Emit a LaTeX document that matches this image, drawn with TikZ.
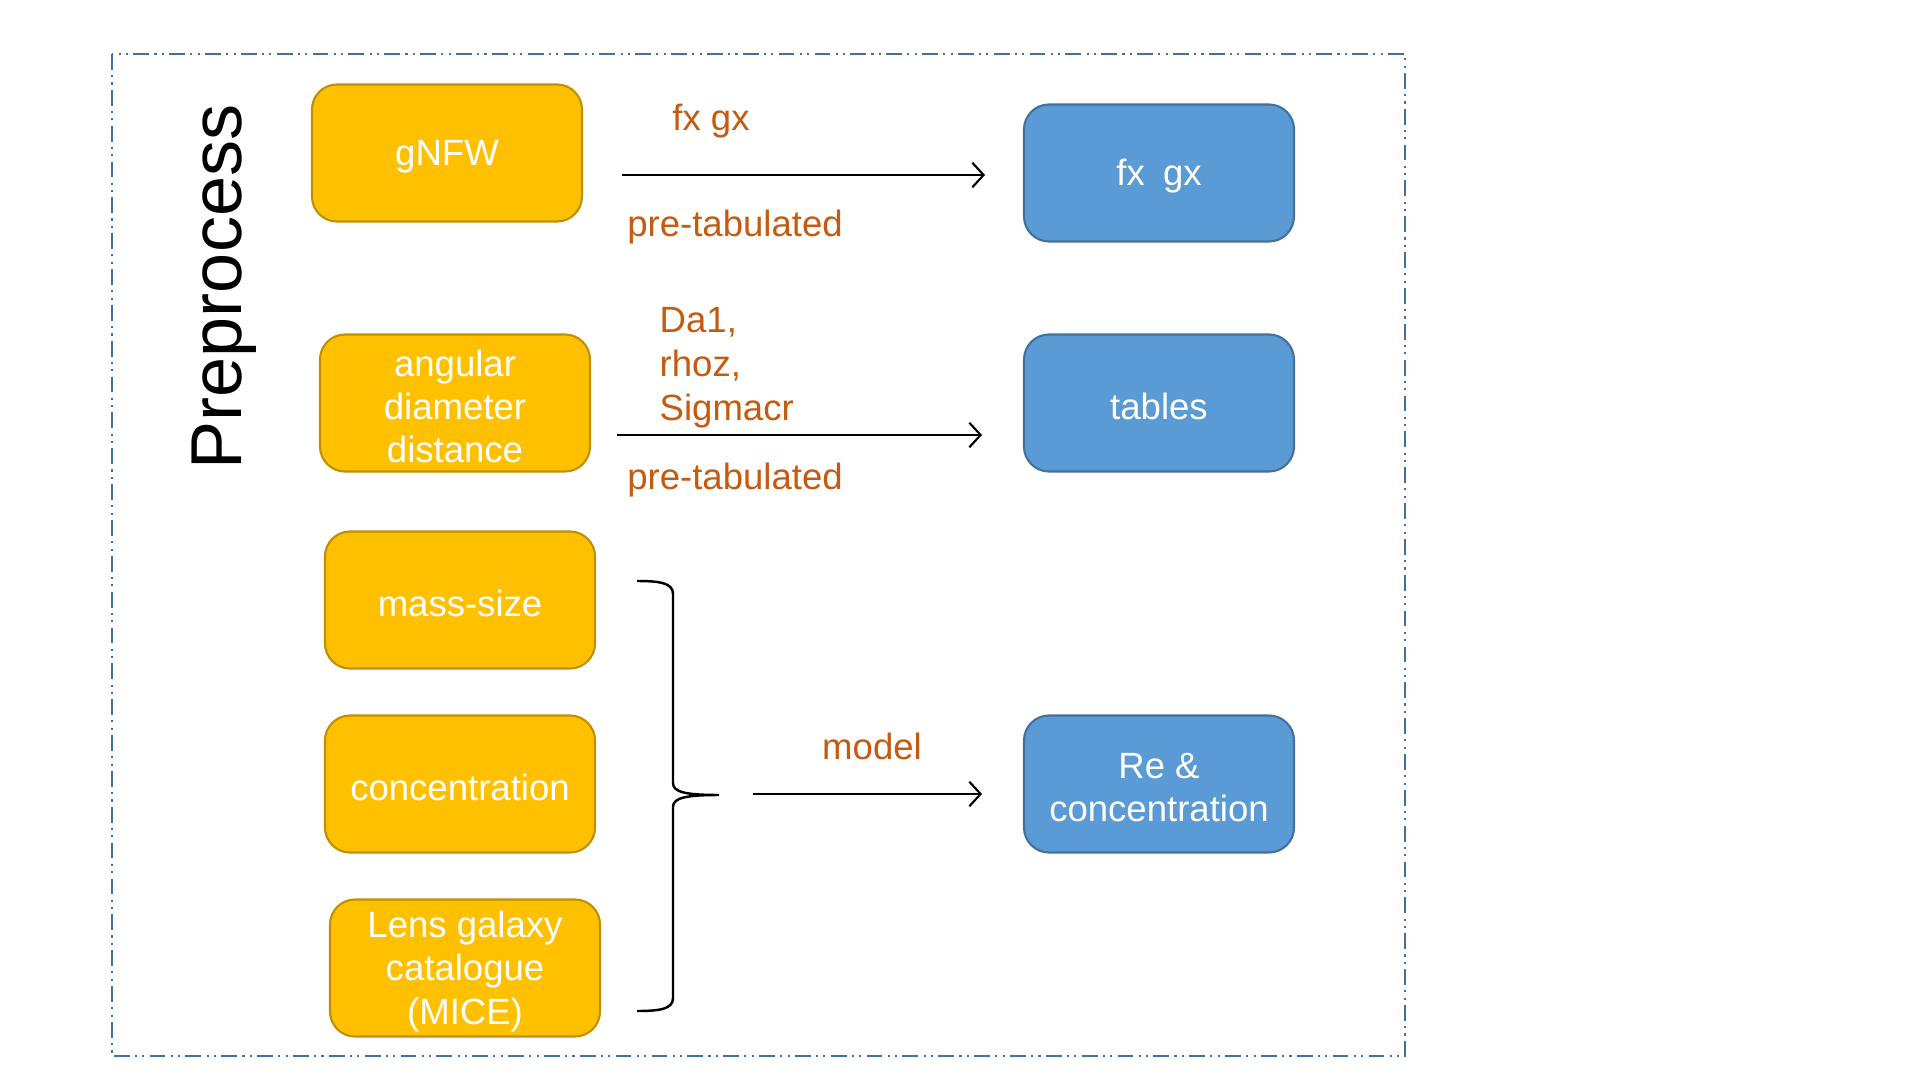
\documentclass[tikz,border=0pt]{standalone}
\usepackage{fontspec}
\setmainfont{Liberation Sans}
\usetikzlibrary{arrows.meta}
\definecolor{boxorange}{HTML}{FFC000}
\definecolor{edgeorange}{HTML}{C09000}
\definecolor{boxblue}{HTML}{5B9BD5}
\definecolor{edgeblue}{HTML}{41719C}
\definecolor{labelorange}{HTML}{C55A11}
\definecolor{framecol}{HTML}{41719C}
\tikzset{
  boxtxt/.style={text=white, align=center, inner sep=0pt, yshift=-0.035cm,
    font=\fontsize{10.4}{12.3}\selectfont},
  inbox/.style={draw=edgeorange, fill=boxorange, line width=0.6pt, rounded corners=0.25cm,
    minimum width=2.7cm, minimum height=1.37cm, inner sep=0pt},
  outbox/.style={inbox, draw=edgeblue, fill=boxblue},
  lbl/.style={text=labelorange, inner sep=0pt, font=\fontsize{10.4}{12.5}\selectfont},
  flow/.style={line width=0.6pt, -{Straight Barb[length=3.2pt,width=7pt,line width=0.6pt]}},
  frame/.style={draw=framecol, line width=0.55pt,
    dash pattern=on 4.5pt off 1.5pt on 0.6pt off 1.5pt on 0.6pt off 1.5pt}
}
\begin{document}
\begin{tikzpicture}
\useasboundingbox (0,0) rectangle (19.2,-10.8);
\fill[white] (0,0) rectangle (19.2,-10.8);

% dashed frame around the preprocessing stage
\draw[frame] (1.12,-0.54) rectangle (14.05,-10.56);

% stage title
\node[rotate=90, font=\fontsize{20.5}{24}\selectfont, inner sep=0pt] (title) at (2.24,-2.87) {Preprocess};

% inputs
\node[inbox, label={[boxtxt]center:gNFW}] (gnfw) at (4.47,-1.53) {};
\node[inbox, label={[boxtxt]center:angular\\diameter\\distance}] (angdist) at (4.55,-4.03) {};
\node[inbox, label={[boxtxt]center:mass-size}] (masssize) at (4.60,-6.00) {};
\node[inbox, label={[boxtxt]center:concentration}] (conc) at (4.60,-7.84) {};
\node[inbox, label={[boxtxt]center:Lens galaxy\\catalogue\\(MICE)}] (lens) at (4.65,-9.68) {};

% outputs
\node[outbox, label={[boxtxt]center:fx\enspace gx}] (fxgx) at (11.59,-1.73) {};
\node[outbox, label={[boxtxt]center:tables}] (tables) at (11.59,-4.03) {};
\node[outbox, label={[boxtxt]center:Re \&\\concentration}] (reconc) at (11.59,-7.84) {};

% arrow end points
\coordinate (a1s) at (6.22,-1.75);
\coordinate (a1e) at (9.85,-1.75);
\coordinate (a2s) at (6.17,-4.35);
\coordinate (a2e) at (9.82,-4.35);
\coordinate (tip) at (7.19,-7.95);
\coordinate (a3s) at (7.53,-7.94);
\coordinate (a3e) at (9.82,-7.94);

\draw[flow] (a1s) -- (a1e);
\draw[flow] (a2s) -- (a2e);
\draw[flow] (a3s) -- (a3e);

% arrow labels
\node[lbl] (l1) at (7.11,-1.215) {fx gx};
\node[lbl] (l2) at (7.35,-2.275) {pre-tabulated};
\node[lbl, anchor=west, align=left] (l3) at (6.59,-3.675) {Da1,\\rhoz,\\Sigmacr};
\node[lbl] (l4) at (7.35,-4.805) {pre-tabulated};
\node[lbl] (l5) at (8.72,-7.46) {model};

% curly brace grouping the three model inputs
\draw[line width=0.7pt]
  (6.37,-5.81) .. controls (6.60,-5.81) and (6.73,-5.83) .. (6.73,-5.94)
  -- (6.73,-7.83) .. controls (6.73,-7.92) and (6.85,-7.95) .. (tip)
  .. controls (6.85,-7.95) and (6.73,-7.98) .. (6.73,-8.07)
  -- (6.73,-9.98) .. controls (6.73,-10.09) and (6.60,-10.11) .. (6.37,-10.11);
\end{tikzpicture}
\end{document}
